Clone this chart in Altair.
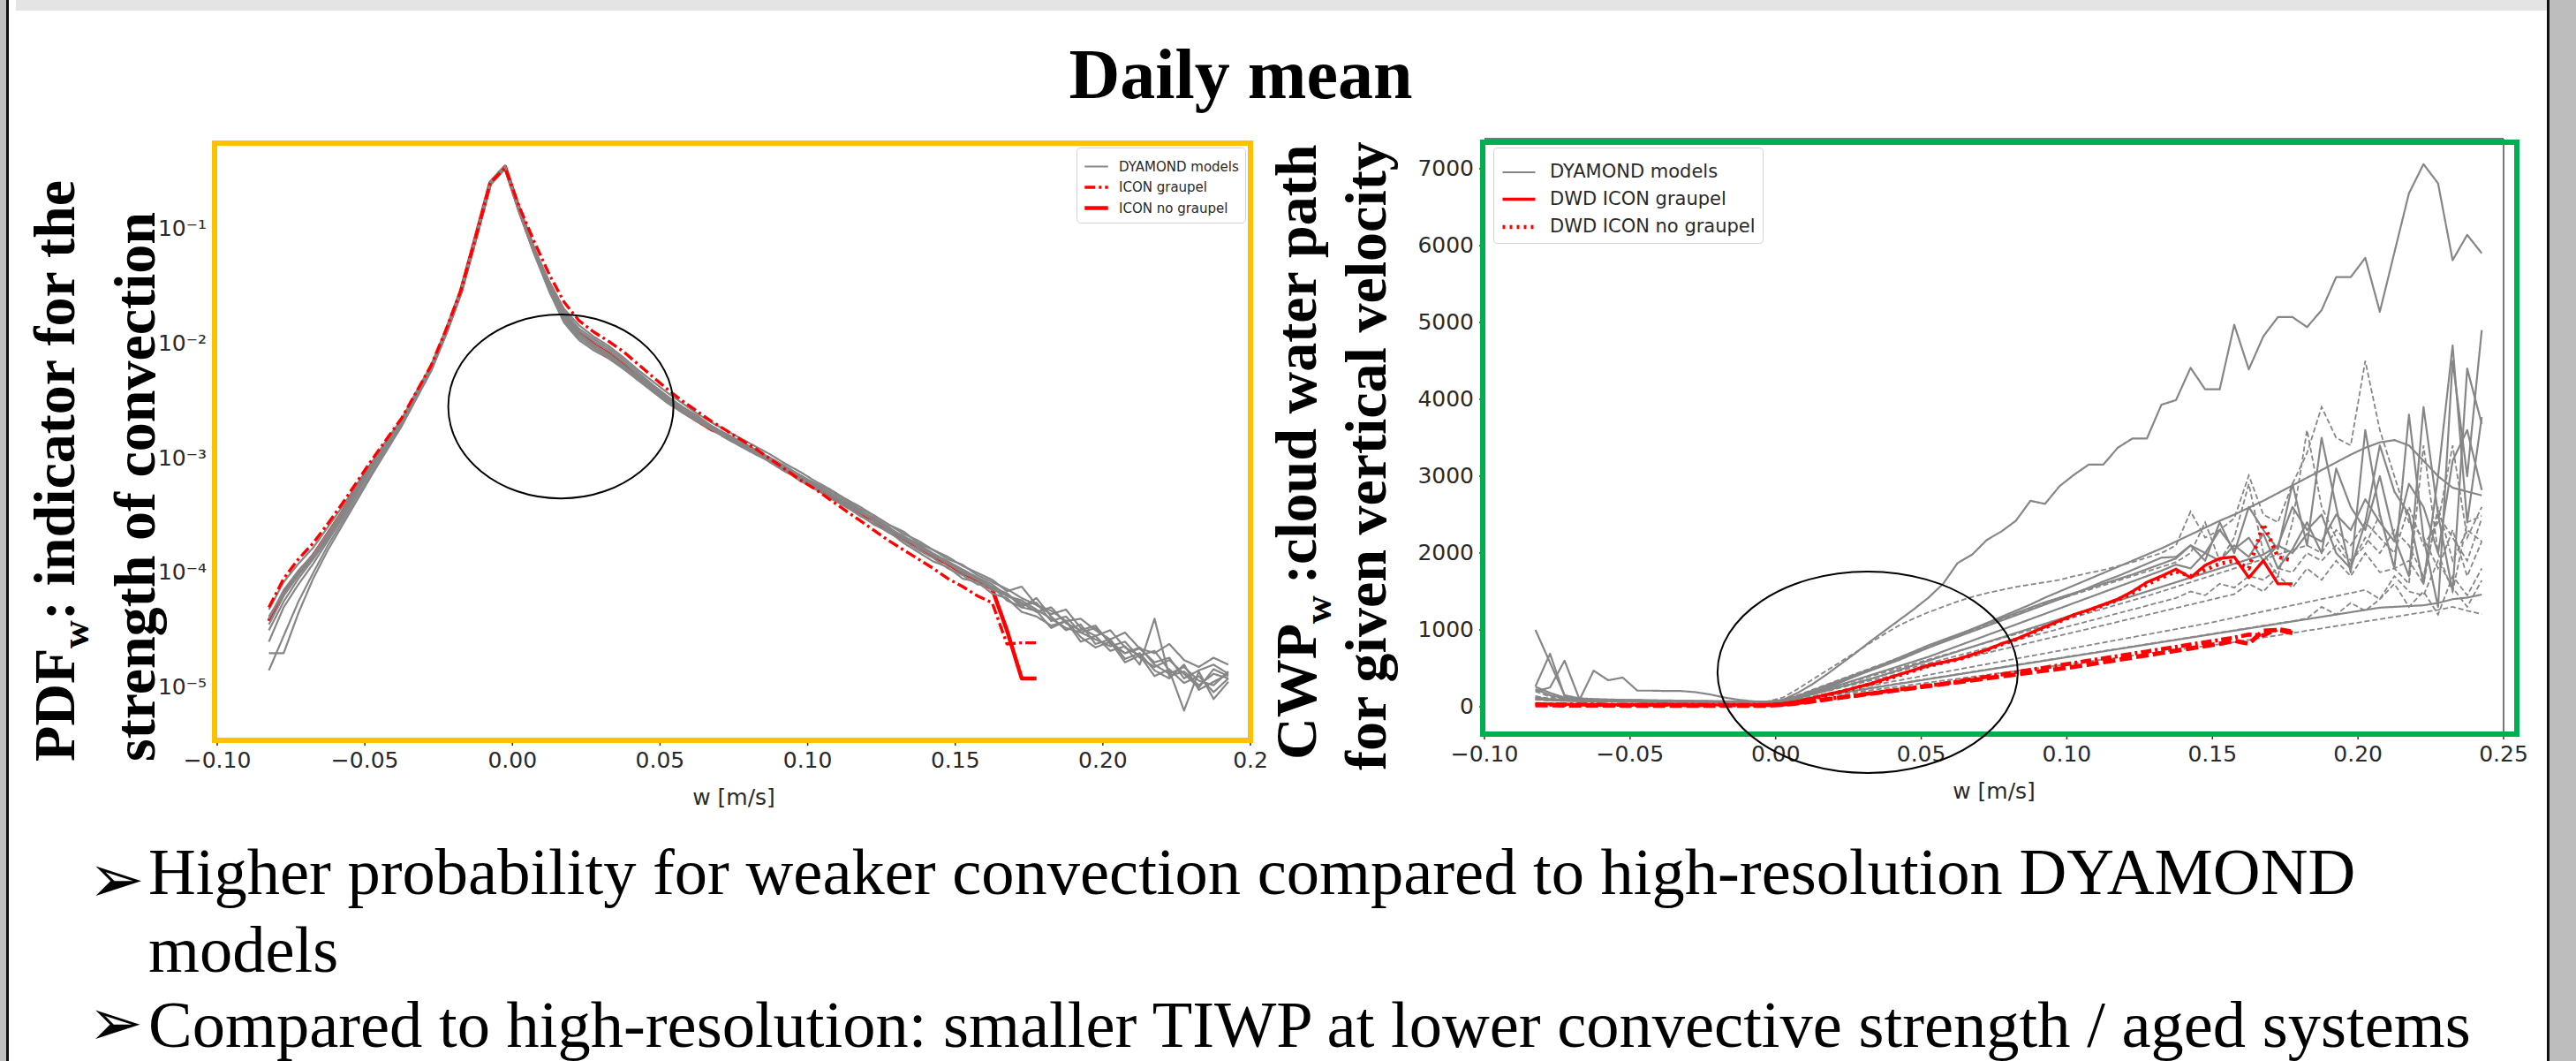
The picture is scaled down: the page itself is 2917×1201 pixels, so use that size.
import altair as alt
import pandas as pd

# ---------------- shared x grid (bin centres, w in m/s) ----------------
W = [-0.0825, -0.0775, -0.0725, -0.0675, -0.0625, -0.0575, -0.0525, -0.0475, -0.0425, -0.0375,
     -0.0325, -0.0275, -0.0225, -0.0175, -0.0125, -0.0075, -0.0025, 0.0025, 0.0075, 0.0125,
     0.0175, 0.0225, 0.0275, 0.0325, 0.0375, 0.0425, 0.0475, 0.0525, 0.0575, 0.0625,
     0.0675, 0.0725, 0.0775, 0.0825, 0.0875, 0.0925, 0.0975, 0.1025, 0.1075, 0.1125,
     0.1175, 0.1225, 0.1275, 0.1325, 0.1375, 0.1425, 0.1475, 0.1525, 0.1575, 0.1625,
     0.1675, 0.1725, 0.1775, 0.1825, 0.1875, 0.1925, 0.1975, 0.2025, 0.2075, 0.2125,
     0.2175, 0.2225, 0.2275, 0.2325, 0.2375, 0.2425]

# ---------------- left panel: log10(PDF_w) ----------------
PDF_M1 = [-4.32,-4.08,-3.92,-3.78,-3.60,-3.42,-3.22,-3.03,-2.84,-2.66,-2.42,-2.19,-1.88,-1.54,-1.07,-0.59,
          -0.45,-0.84,-1.18,-1.46,-1.70,-1.84,-1.94,-2.02,-2.12,-2.23,-2.33,-2.43,-2.52,-2.61,-2.69,
          -2.76,-2.83,-2.90,-2.97,-3.05,-3.12,-3.20,-3.27,-3.35,-3.42,-3.50,-3.58,-3.66,-3.72,-3.80,
          -3.88,-3.93,-4.02,-4.08,-4.14,-4.22,-4.28,-4.33,-4.42,-4.40,-4.50,-4.58,-4.52,-4.66,-4.70,-4.62,-4.76,-4.82,-4.74,-4.80]
PDF_M2 = [-4.40,-4.15,-3.98,-3.84,-3.66,-3.47,-3.26,-3.06,-2.86,-2.68,-2.44,-2.21,-1.90,-1.56,-1.09,-0.61,
          -0.47,-0.86,-1.21,-1.52,-1.78,-1.93,-2.02,-2.10,-2.20,-2.31,-2.41,-2.51,-2.60,-2.68,-2.75,
          -2.83,-2.90,-2.97,-3.03,-3.11,-3.20,-3.26,-3.35,-3.41,-3.50,-3.57,-3.65,-3.72,-3.80,-3.87,
          -3.96,-4.02,-4.10,-4.12,-4.24,-4.30,-4.33,-4.48,-4.42,-4.60,-4.55,-4.68,-4.64,-4.80,-4.40,-4.90,-4.86,-4.98,-4.88,-4.92]
PDF_M3 = [-4.70,-4.70,-4.35,-4.05,-3.80,-3.58,-3.36,-3.14,-2.93,-2.72,-2.48,-2.24,-1.92,-1.57,-1.10,-0.62,
          -0.48,-0.87,-1.23,-1.55,-1.82,-1.97,-2.06,-2.13,-2.22,-2.32,-2.42,-2.52,-2.60,-2.67,-2.75,
          -2.82,-2.88,-2.96,-3.02,-3.08,-3.17,-3.24,-3.30,-3.38,-3.46,-3.52,-3.60,-3.70,-3.76,-3.84,
          -3.92,-3.98,-4.05,-4.15,-4.18,-4.30,-4.22,-4.38,-4.50,-4.45,-4.62,-4.58,-4.75,-4.70,-4.85,-4.92,-4.80,-5.02,-4.95,-4.88]
PDF_M4 = [-4.85,-4.55,-4.25,-4.00,-3.76,-3.55,-3.33,-3.12,-2.91,-2.71,-2.47,-2.23,-1.91,-1.56,-1.09,-0.61,
          -0.47,-0.86,-1.22,-1.53,-1.80,-1.95,-2.04,-2.12,-2.21,-2.31,-2.40,-2.50,-2.59,-2.66,-2.73,
          -2.80,-2.87,-2.93,-3.00,-3.07,-3.15,-3.22,-3.28,-3.36,-3.44,-3.50,-3.58,-3.64,-3.74,-3.80,
          -3.86,-3.94,-4.00,-4.06,-4.16,-4.12,-4.28,-4.36,-4.32,-4.48,-4.55,-4.50,-4.65,-4.72,-4.68,-4.85,-5.20,-4.86,-5.10,-4.95]
PDF_M5 = [-4.50,-4.25,-4.05,-3.88,-3.70,-3.50,-3.29,-3.08,-2.88,-2.69,-2.45,-2.22,-1.90,-1.55,-1.08,-0.60,
          -0.46,-0.85,-1.19,-1.48,-1.72,-1.87,-1.96,-2.04,-2.14,-2.25,-2.36,-2.46,-2.55,-2.63,-2.72,
          -2.79,-2.86,-2.94,-3.00,-3.08,-3.16,-3.22,-3.31,-3.38,-3.45,-3.55,-3.62,-3.68,-3.78,-3.84,
          -3.90,-3.97,-4.04,-4.10,-4.20,-4.26,-4.34,-4.30,-4.44,-4.50,-4.46,-4.62,-4.70,-4.66,-4.78,-4.74,-4.92,-4.85,-4.80,-4.88]
PDF_M6 = [-4.45,-4.20,-4.02,-3.86,-3.68,-3.48,-3.27,-3.07,-2.87,-2.68,-2.44,-2.21,-1.90,-1.55,-1.08,-0.60,
          -0.46,-0.85,-1.20,-1.50,-1.76,-1.91,-2.01,-2.09,-2.19,-2.30,-2.40,-2.50,-2.59,-2.67,-2.75,
          -2.82,-2.89,-2.96,-3.04,-3.12,-3.18,-3.27,-3.34,-3.42,-3.49,-3.58,-3.64,-3.74,-3.82,-3.90,
          -3.95,-4.05,-4.08,-4.18,-4.22,-4.34,-4.38,-4.46,-4.42,-4.56,-4.65,-4.60,-4.78,-4.72,-4.90,-4.84,-4.96,-4.90,-5.04,-4.92]
PDF_M7 = [-4.38,-4.18,-4.00,-3.84,-3.65,-3.46,-3.25,-3.05,-2.86,-2.67,-2.43,-2.20,-1.89,-1.55,-1.08,-0.60,
          -0.46,-0.85,-1.20,-1.49,-1.74,-1.89,-1.98,-2.06,-2.16,-2.27,-2.37,-2.47,-2.56,-2.64,-2.72,
          -2.80,-2.87,-2.94,-3.02,-3.09,-3.16,-3.25,-3.32,-3.40,-3.47,-3.54,-3.63,-3.70,-3.77,-3.85,
          -3.92,-4.00,-4.06,-4.14,-4.20,-4.24,-4.32,-4.40,-4.48,-4.52,-4.58,-4.64,-4.60,-4.74,-4.82,-4.76,-4.88,-5.00,-4.84,-4.90]
PDF_M8 = [-4.60,-4.30,-4.10,-3.92,-3.72,-3.52,-3.30,-3.09,-2.89,-2.70,-2.46,-2.22,-1.91,-1.56,-1.09,-0.61,
          -0.47,-0.86,-1.21,-1.51,-1.77,-1.92,-2.01,-2.09,-2.19,-2.29,-2.39,-2.49,-2.58,-2.66,-2.74,
          -2.81,-2.88,-2.95,-3.01,-3.09,-3.15,-3.23,-3.30,-3.38,-3.46,-3.52,-3.61,-3.68,-3.75,-3.83,
          -3.90,-3.99,-4.05,-4.12,-4.18,-4.28,-4.26,-4.42,-4.38,-4.52,-4.48,-4.60,-4.70,-4.65,-4.80,-4.88,-4.82,-4.94,-4.98,-4.86]
PDF_ICON_GRAUPEL = [-4.30,-4.05,-3.88,-3.74,-3.57,-3.39,-3.20,-3.01,-2.83,-2.65,-2.42,-2.19,-1.88,-1.54,-1.08,-0.60,
                    -0.47,-0.82,-1.12,-1.40,-1.64,-1.80,-1.90,-1.98,-2.07,-2.18,-2.29,-2.40,-2.50,-2.59,-2.68,
                    -2.76,-2.84,-2.92,-3.01,-3.10,-3.19,-3.27,-3.36,-3.45,-3.54,-3.63,-3.72,-3.80,-3.88,-3.96,
                    -4.05,-4.12,-4.20,-4.26,-4.62,-4.61,-4.61]
PDF_ICON_NO_GRAUPEL = [-4.42,-4.18,-4.00,-3.85,-3.66,-3.47,-3.26,-3.06,-2.86,-2.68,-2.44,-2.21,-1.90,-1.55,-1.08,-0.60,
                       -0.46,-0.85,-1.20,-1.50,-1.76,-1.91,-2.01,-2.09,-2.19,-2.30,-2.40,-2.50,-2.59,-2.67,-2.75,
                       -2.80,-2.87,-2.94,-3.02,-3.09,-3.16,-3.25,-3.32,-3.40,-3.47,-3.54,-3.63,-3.70,-3.77,-3.85,
                       -3.92,-4.00,-4.06,-4.14,-4.50,-4.92,-4.92]

# ---------------- right panel: CWP_w ----------------
CWP_S1 = [230,150,110,95,90,85,85,80,80,78,75,72,70,68,65,62,70,
          90,180,290,420,560,700,850,990,1130,1270,1420,1600,1870,1980,2170,2280,2420,2680,2640,2870,
          3020,3150,3150,3370,3490,3490,3930,3990,4410,4130,4130,4970,4390,4820,5070,5070,4940,5160,5590,5590,
          5840,5140,5910,6680,7060,6810,5810,6140,5900]
CWP_S2 = [1000,575,150,110,100,95,90,88,85,82,80,78,75,72,70,65,60,
          70,110,170,240,320,400,480,560,640,720,800,870,940,1010,1080,1150,1220,1290,1360,1420,
          1480,1540,1600,1660,1720,1790,1860,1930,2100,1900,2400,2000,2600,2300,2050,2900,2100,3500,2600,1750,
          3600,2500,1800,3800,2200,1300,4500,3000,4900]
CWP_S3 = [260,180,120,80,470,345,380,210,210,205,205,190,160,120,90,70,65,
          80,130,190,260,330,400,470,540,610,690,770,850,930,1010,1090,1170,1250,1330,1420,1500,
          1580,1660,1740,1820,1900,1980,2060,2150,2240,2330,2420,2500,2590,2680,2780,2880,2980,3080,3180,3280,
          3370,3440,3470,3400,3200,3000,2850,2800,2750]
CWP_S4 = [265,690,140,105,95,90,85,85,80,78,75,72,70,68,65,62,65,
          85,140,210,280,350,420,490,560,630,700,770,840,910,980,1050,1120,1190,1260,1330,1400,
          1470,1550,1630,1700,1780,1860,1940,1950,2100,2000,2300,2050,2200,1900,2100,2600,2300,2500,2000,1800,
          2400,3400,2800,2500,1600,3000,4700,2400,3770]
CWP_S5 = [200,250,600,110,85,80,78,75,72,70,68,65,62,60,58,56,58,
          75,120,170,230,290,350,410,470,530,590,650,720,790,860,930,1000,1070,1140,1210,1280,
          1350,1420,1490,1560,1630,1700,1770,1850,1800,2000,1900,2100,1950,2250,1800,2050,2400,2000,3100,2600,
          2300,3000,2200,1700,3900,2500,1500,4400,3680]
CWP_S6 = [120,100,90,82,78,75,72,70,68,66,64,62,60,58,56,55,56,
          70,110,160,210,260,310,360,420,480,540,600,660,720,780,840,900,960,1020,1080,1140,
          1200,1260,1320,1380,1440,1500,1560,1620,1680,1740,1800,1860,1920,1980,2100,2000,2250,2150,2500,2300,
          2700,2400,2150,2900,2600,2000,3200,3600,2820]
CWP_S7 = [100,85,78,72,70,68,66,64,62,60,58,56,55,54,52,52,54,
          62,90,120,150,180,210,240,270,300,330,360,390,420,450,480,510,540,570,600,630,
          660,690,720,750,780,810,840,870,900,930,960,990,1020,1050,1080,1110,1140,1170,1200,1230,
          1260,1290,1300,1310,1320,1350,1400,1420,1460]
CWP_D1 = [200,130,100,90,85,82,80,78,75,72,70,68,66,64,62,60,70,
          120,230,350,470,590,710,830,950,1060,1150,1230,1300,1370,1430,1480,1520,1560,1590,1620,1650,
          1700,1740,1780,1830,1880,1940,2000,2100,2540,2200,2300,2450,3010,2500,2400,2900,3300,3900,3500,3400,
          4500,3600,3000,2400,2200,1800,2300,1700,2150]
CWP_D2 = [140,100,90,85,80,78,76,74,72,70,68,66,64,62,60,58,62,
          90,150,220,290,360,430,500,570,640,710,780,850,920,990,1060,1130,1200,1270,1340,1400,
          1460,1520,1580,1640,1700,1760,1820,1880,2000,2400,1900,2200,2900,2000,1700,2400,3600,2600,2200,1900,
          2100,2500,1800,1600,3400,2000,1500,2400,2483]
CWP_D3 = [110,95,88,82,78,75,73,71,69,67,65,63,61,59,57,56,58,
          75,115,160,205,250,295,340,385,430,475,520,565,610,655,700,745,790,835,880,925,
          970,1015,1060,1105,1150,1195,1240,1285,1330,1375,1420,1465,1600,1500,1700,1550,1800,1650,1900,1700,
          2000,1750,1800,1900,1600,2600,1900,2300,2150]
CWP_D4 = [100,90,84,80,76,73,71,69,67,65,63,61,59,57,55,54,56,
          70,100,135,170,205,240,275,310,345,380,415,450,485,520,555,590,625,660,695,730,
          765,800,835,870,905,940,975,1010,1045,1080,1120,1160,1200,1240,1280,1320,1360,1400,1440,1480,
          1520,1400,1700,1500,1450,1900,1550,1300,1644]
CWP_D5 = [90,82,78,74,72,70,68,66,64,62,60,58,56,55,54,53,54,
          65,90,115,140,165,190,215,240,265,290,315,340,365,390,415,440,465,490,515,540,
          565,590,615,640,665,690,715,740,765,790,815,840,870,900,930,960,990,1020,1050,1080,
          1110,1140,1170,1200,1230,1260,1300,1250,1207]
CWP_D6 = [130,105,92,86,82,79,77,75,73,71,69,67,65,63,61,59,60,
          80,125,175,230,285,340,395,450,505,560,615,670,725,780,835,890,945,1000,1055,1110,
          1165,1220,1275,1330,1385,1440,1500,1560,1620,1680,1740,1800,1860,1920,1980,2040,2100,2000,2300,2100,
          2400,2200,2000,2600,2100,2400,3400,2200,2600]
CWP_D7 = [95,86,80,76,73,71,69,67,65,63,61,59,57,56,55,54,55,
          68,95,125,155,185,215,245,275,305,335,365,395,425,455,485,515,545,575,605,635,
          665,695,725,755,785,815,845,875,905,935,965,995,1025,1055,1085,1115,1150,1300,1200,1350,
          1250,1400,1600,1300,1500,1200,1700,1450,1800]
CWP_D8 = [120,98,88,83,79,76,74,72,70,68,66,64,62,60,58,57,58,
          78,118,165,215,265,315,365,415,465,515,565,615,665,715,765,815,865,915,965,1015,
          1065,1115,1165,1215,1265,1315,1365,1415,1500,1450,1600,1550,1700,1650,1800,1750,2000,1900,2100,1850,
          2200,2000,2300,2100,1700,2500,2200,1900,2450]
CWP_DWD_GRAUPEL = [40,35,32,30,30,28,28,27,27,26,26,25,25,24,24,24,25,
                   40,70,110,160,200,250,300,360,420,480,540,580,620,680,740,820,880,960,1040,1120,
                   1200,1260,1330,1400,1500,1620,1700,1790,1680,1840,1930,1950,1680,1900,1600,1600]
CWP_DWD_NO_GRAUPEL = [30,28,26,25,25,24,24,23,23,22,22,22,21,21,21,21,22,
                      35,65,105,150,195,245,295,350,410,470,530,575,615,675,735,810,875,950,1030,1110,
                      1190,1250,1320,1390,1480,1590,1680,1760,1700,1780,1860,1900,1800,2380,1950,1900]
CWP_RED_DASHED = [20,20,18,18,17,17,16,16,16,15,15,15,15,14,14,14,15,
                  25,45,70,95,120,145,170,195,220,245,270,295,320,345,370,395,420,445,470,495,
                  520,550,580,610,640,670,700,730,760,790,820,860,820,990,1000,960]
CWP_RED_DASHDOT = [35,32,30,28,28,27,26,26,25,25,24,24,23,23,22,22,23,
                   30,50,75,100,125,150,175,200,225,250,275,300,330,360,390,420,450,480,510,540,
                   570,600,630,660,690,720,750,780,810,840,870,900,940,930,1010,980]

# ---------------- ticks, labels, legend entries ----------------
XTICKS = [-0.10, -0.05, 0.0, 0.05, 0.10, 0.15, 0.20, 0.25]
XTICK_LABELS = ["\u22120.10", "\u22120.05", "0.00", "0.05", "0.10", "0.15", "0.20", "0.25"]
XTICK_LABELS_LEFT = ["\u22120.10", "\u22120.05", "0.00", "0.05", "0.10", "0.15", "0.20", "0.2\u00a0\u00a0"]
PDF_TICKS = [1e-5, 1e-4, 1e-3, 1e-2, 1e-1]
PDF_TICK_LABELS = ["10\u207b\u2075", "10\u207b\u2074", "10\u207b\u00b3", "10\u207b\u00b2", "10\u207b\u00b9"]
CWP_TICKS = [0, 1000, 2000, 3000, 4000, 5000, 6000, 7000]
CWP_TICK_LABELS = ["0", "1000", "2000", "3000", "4000", "5000", "6000", "7000"]
LEFT_SERIES = ["DYAMOND models", "ICON graupel", "ICON no graupel"]
RIGHT_SERIES = ["DYAMOND models", "DWD ICON graupel", "DWD ICON no graupel"]
# annotation ellipse centres (data coordinates)
ELLIPSE_LEFT = {"w": [0.0164], "pdf": [2.82e-3]}
ELLIPSE_RIGHT = {"w": [0.0316], "cwp": [449]}

for lst in [PDF_M1, PDF_M2, PDF_M3, PDF_M4, PDF_M5, PDF_M6, PDF_M7, PDF_M8,
            CWP_S1, CWP_S2, CWP_S3, CWP_S4, CWP_S5, CWP_S6, CWP_S7,
            CWP_D1, CWP_D2, CWP_D3, CWP_D4, CWP_D5, CWP_D6, CWP_D7, CWP_D8]:
    assert len(lst) == len(W), len(lst)
for lst in [PDF_ICON_GRAUPEL, PDF_ICON_NO_GRAUPEL, CWP_DWD_GRAUPEL, CWP_DWD_NO_GRAUPEL,
            CWP_RED_DASHED, CWP_RED_DASHDOT]:
    assert len(lst) == 53, len(lst)


def frame(named, field, series, log=False):
    rows = []
    for name, vals in named:
        for w, v in zip(W, vals):
            rows.append({"w": w, field: (10 ** v) if log else v, "model": name, "series": series})
    return pd.DataFrame(rows)


GRAY = "#868686"
RED = "#ff0000"
TXT = "#2a2a2a"
TICKFONT = "DejaVu Sans"

df_lg = frame([("m1", PDF_M1), ("m2", PDF_M2), ("m3", PDF_M3), ("m4", PDF_M4),
               ("m5", PDF_M5), ("m6", PDF_M6), ("m7", PDF_M7), ("m8", PDF_M8)], "pdf", LEFT_SERIES[0], log=True)
df_lr_g = frame([("g", PDF_ICON_GRAUPEL)], "pdf", LEFT_SERIES[1], log=True)
df_lr_n = frame([("n", PDF_ICON_NO_GRAUPEL)], "pdf", LEFT_SERIES[2], log=True)

df_rs = frame([("s1", CWP_S1), ("s2", CWP_S2), ("s3", CWP_S3), ("s4", CWP_S4),
               ("s5", CWP_S5), ("s6", CWP_S6), ("s7", CWP_S7)], "cwp", RIGHT_SERIES[0])
df_rd = frame([("d1", CWP_D1), ("d2", CWP_D2), ("d3", CWP_D3), ("d4", CWP_D4),
               ("d5", CWP_D5), ("d6", CWP_D6), ("d7", CWP_D7), ("d8", CWP_D8)], "cwp", "dashed")
df_rr = pd.concat([frame([("g", CWP_DWD_GRAUPEL)], "cwp", RIGHT_SERIES[1]),
                   frame([("n", CWP_DWD_NO_GRAUPEL)], "cwp", RIGHT_SERIES[2])])
df_rx1 = frame([("x1", CWP_RED_DASHED)], "cwp", "red dashed")
df_rx2 = frame([("x2", CWP_RED_DASHDOT)], "cwp", "red dashdot")

df_xt_l = pd.DataFrame({"w": XTICKS, "lab": XTICK_LABELS_LEFT})
df_xt_r = pd.DataFrame({"w": XTICKS, "lab": XTICK_LABELS})
df_yt_l = pd.DataFrame({"pdf": PDF_TICKS, "lab": PDF_TICK_LABELS})
df_yt_r = pd.DataFrame({"cwp": CWP_TICKS, "lab": CWP_TICK_LABELS})

# ---------------- scales ----------------
XL = alt.Scale(domain=[-0.10, 0.25], range=[246, 1416], nice=False, zero=False)
YL = alt.Scale(type="log", domain=[3.47e-6, 0.538], range=[838, 164], nice=False)
XR = alt.Scale(domain=[-0.10, 0.25], range=[1681, 2835], nice=False, zero=False)
YR = alt.Scale(domain=[-356, 7391], range=[831, 157], nice=False, zero=False)

LEG_COMMON = dict(title=None, orient="none", fillColor="white", strokeColor="#d4d4d4",
                  cornerRadius=4, labelFont=TICKFONT, labelColor=TXT, symbolType="stroke",
                  rowPadding=0, labelLimit=500)
LEG_L = alt.Legend(legendX=1219, legendY=167, padding=7, labelFontSize=15, symbolSize=700,
                   labelOffset=10, **LEG_COMMON)
LEG_R = alt.Legend(legendX=1691, legendY=167, padding=8, labelFontSize=21, symbolSize=1369,
                   labelOffset=14, **LEG_COMMON)


def series_enc(domain, colors, dashes, widths, legend):
    return dict(
        color=alt.Color("series:N", scale=alt.Scale(domain=domain, range=colors), legend=legend),
        strokeDash=alt.StrokeDash("series:N", scale=alt.Scale(domain=domain, range=dashes), legend=legend),
        strokeWidth=alt.StrokeWidth("series:N", scale=alt.Scale(domain=domain, range=widths), legend=legend),
    )


enc_left = series_enc(LEFT_SERIES, [GRAY, RED, RED], [[1, 0], [12, 4, 3, 4], [1, 0]], [2.2, 4.5, 4.5], LEG_L)
enc_right = series_enc(RIGHT_SERIES, [GRAY, RED, RED], [[1, 0], [1, 0], [3, 5]], [2.2, 4.5, 4.5], LEG_R)

ONE = alt.Data(values=[{"k": 0}])


def rect(x0, x1, y0, y1, color):
    return alt.Chart(ONE).mark_rect(color=color).encode(
        x=alt.value(x0), x2=alt.value(x1), y=alt.value(y0), y2=alt.value(y1))


def box(x0, x1, y0, y1, color, width):
    return alt.Chart(ONE).mark_rect(filled=False, color=color, strokeWidth=width).encode(
        x=alt.value(x0), x2=alt.value(x1), y=alt.value(y0), y2=alt.value(y1))


def label(text, x, y, size, font="Liberation Serif", weight="normal", angle=0, align="left",
          baseline="alphabetic", color="black"):
    return alt.Chart(ONE).mark_text(text=text, font=font, fontSize=size, fontWeight=weight,
                                    angle=angle, align=align, baseline=baseline,
                                    color=color).encode(x=alt.value(x), y=alt.value(y))


def x_axis_marks(df, xscale, y0):
    ticks = alt.Chart(df).mark_rule(color="#333333", strokeWidth=1.5).encode(
        x=alt.X("w:Q", scale=xscale, axis=None), y=alt.value(y0), y2=alt.value(y0 + 6))
    labs = alt.Chart(df).mark_text(font=TICKFONT, fontSize=25, color=TXT, align="center",
                                   baseline="top").encode(
        x=alt.X("w:Q", scale=xscale, axis=None), y=alt.value(y0 + 11), text="lab:N")
    return [ticks, labs]


def y_axis_marks(df, field, yscale, x0):
    ticks = alt.Chart(df).mark_rule(color="#333333", strokeWidth=1.5).encode(
        y=alt.Y(field + ":Q", scale=yscale, axis=None), x=alt.value(x0 - 6), x2=alt.value(x0))
    labs = alt.Chart(df).mark_text(font=TICKFONT, fontSize=25, color=TXT, align="right",
                                   baseline="middle").encode(
        y=alt.Y(field + ":Q", scale=yscale, axis=None), x=alt.value(x0 - 12), text="lab:N")
    return [ticks, labs]


# ---------------- left panel ----------------
l_red_n = alt.Chart(df_lr_n).mark_line(strokeJoin="round").encode(
    x=alt.X("w:Q", scale=XL, axis=None), y=alt.Y("pdf:Q", scale=YL, axis=None),
    detail="model:N", **enc_left)
l_gray = alt.Chart(df_lg).mark_line(strokeJoin="round").encode(
    x=alt.X("w:Q", scale=XL, axis=None), y=alt.Y("pdf:Q", scale=YL, axis=None),
    detail="model:N", **enc_left)
l_red_g = alt.Chart(df_lr_g).mark_line(strokeJoin="round").encode(
    x=alt.X("w:Q", scale=XL, axis=None), y=alt.Y("pdf:Q", scale=YL, axis=None),
    detail="model:N", **enc_left)
l_frame = box(243, 1416, 162, 838, "#ffc000", 6)
l_ell = alt.Chart(pd.DataFrame(ELLIPSE_LEFT)).mark_point(
    shape="M -1 0 A 1 0.816 0 1 1 1 0 A 1 0.816 0 1 1 -1 0 Z", size=65025, filled=False,
    color="black", strokeWidth=2, opacity=1).encode(
    x=alt.X("w:Q", scale=XL, axis=None), y=alt.Y("pdf:Q", scale=YL, axis=None))
left_panel = alt.layer(
    *x_axis_marks(df_xt_l, XL, 838), *y_axis_marks(df_yt_l, "pdf", YL, 246),
    l_red_n, l_gray, l_red_g, l_frame, l_ell)

# ---------------- right panel ----------------
r_solid = alt.Chart(df_rs).mark_line(strokeJoin="round").encode(
    x=alt.X("w:Q", scale=XR, axis=None), y=alt.Y("cwp:Q", scale=YR, axis=None),
    detail="model:N", **enc_right)
r_dash = alt.Chart(df_rd).mark_line(color=GRAY, strokeWidth=1.8, strokeDash=[6, 3]).encode(
    x=alt.X("w:Q", scale=XR, axis=None), y=alt.Y("cwp:Q", scale=YR, axis=None), detail="model:N")
r_x1 = alt.Chart(df_rx1).mark_line(color=RED, strokeWidth=5, strokeDash=[14, 5]).encode(
    x=alt.X("w:Q", scale=XR, axis=None), y=alt.Y("cwp:Q", scale=YR, axis=None))
r_x2 = alt.Chart(df_rx2).mark_line(color=RED, strokeWidth=4.5, strokeDash=[12, 4, 3, 4]).encode(
    x=alt.X("w:Q", scale=XR, axis=None), y=alt.Y("cwp:Q", scale=YR, axis=None))
r_red = alt.Chart(df_rr).mark_line(strokeJoin="round").encode(
    x=alt.X("w:Q", scale=XR, axis=None), y=alt.Y("cwp:Q", scale=YR, axis=None),
    detail="model:N", **enc_right)
r_spine_top = alt.Chart(ONE).mark_rule(color="#777777", strokeWidth=2).encode(
    x=alt.value(1681), x2=alt.value(2835), y=alt.value(157))
r_spine_right = alt.Chart(ONE).mark_rule(color="#777777", strokeWidth=2).encode(
    x=alt.value(2835), y=alt.value(157), y2=alt.value(831))
r_frame = box(1679, 2850, 161, 831, "#00b050", 6)
r_ell = alt.Chart(pd.DataFrame(ELLIPSE_RIGHT)).mark_point(
    shape="M -1 0 A 1 0.671 0 1 1 1 0 A 1 0.671 0 1 1 -1 0 Z", size=115600, filled=False,
    color="black", strokeWidth=2, opacity=1).encode(
    x=alt.X("w:Q", scale=XR, axis=None), y=alt.Y("cwp:Q", scale=YR, axis=None))
right_panel = alt.layer(
    *x_axis_marks(df_xt_r, XR, 831), *y_axis_marks(df_yt_r, "cwp", YR, 1681),
    r_solid, r_dash, r_x1, r_x2, r_red, r_spine_top, r_spine_right, r_frame, r_ell)

# ---------------- slide decorations and text ----------------
deco = alt.layer(
    rect(18, 2884, 0, 12, "#e4e4e4"),
    rect(0, 7, 0, 1201, "#c0c0c0"),
    rect(7, 10, 0, 1201, "#111111"),
    rect(2884, 2887, 0, 1201, "#111111"),
    rect(2887, 2917, 0, 1201, "#bdbdbd"),
)

texts = alt.layer(
    label("Daily mean", 1405, 111, 80, weight="bold", align="center"),
    # axis titles
    label("w [m/s]", 831, 903, 25, font=TICKFONT, align="center", baseline="middle", color=TXT),
    label("w [m/s]", 2258, 896, 25, font=TICKFONT, align="center", baseline="middle", color=TXT),
    # left y title (rotated)
    label("PDF", 84, 862, 66, weight="bold", angle=270),
    label("w", 100, 734, 44, weight="bold", angle=270),
    label(": indicator for the", 84, 702, 66, weight="bold", angle=270),
    label("strength of convection", 175, 862, 66, weight="bold", angle=270),
    # right y title (rotated)
    label("CWP", 1490, 860, 66, weight="bold", angle=270),
    label("w", 1507, 706, 44, weight="bold", angle=270),
    label(":cloud water path", 1490, 661, 66, weight="bold", angle=270),
    label("for given vertical velocity", 1569, 872, 66, weight="bold", angle=270),
    # bullets
    label("\u27a2", 100, 1021, 76, font="DejaVu Sans"),
    label("Higher probability for weaker convection compared to high-resolution DYAMOND", 168, 1012, 74.5),
    label("models", 168, 1100, 74.5),
    label("\u27a2", 100, 1183, 74, font="DejaVu Sans"),
    label("Compared to high-resolution: smaller TIWP at lower convective strength / aged systems", 168, 1185, 74.5),
)

chart = alt.layer(deco, left_panel, right_panel, texts).resolve_scale(
    x="independent", y="independent", color="independent",
    strokeDash="independent", strokeWidth="independent").resolve_legend(
    color="independent", strokeDash="independent", strokeWidth="independent").properties(
    width=2917, height=1201, autosize=alt.AutoSizeParams(type="none"), padding=0,
    background="white").configure_view(stroke=None)

chart.save("out.html", embed_options={"renderer": "svg", "actions": False})
